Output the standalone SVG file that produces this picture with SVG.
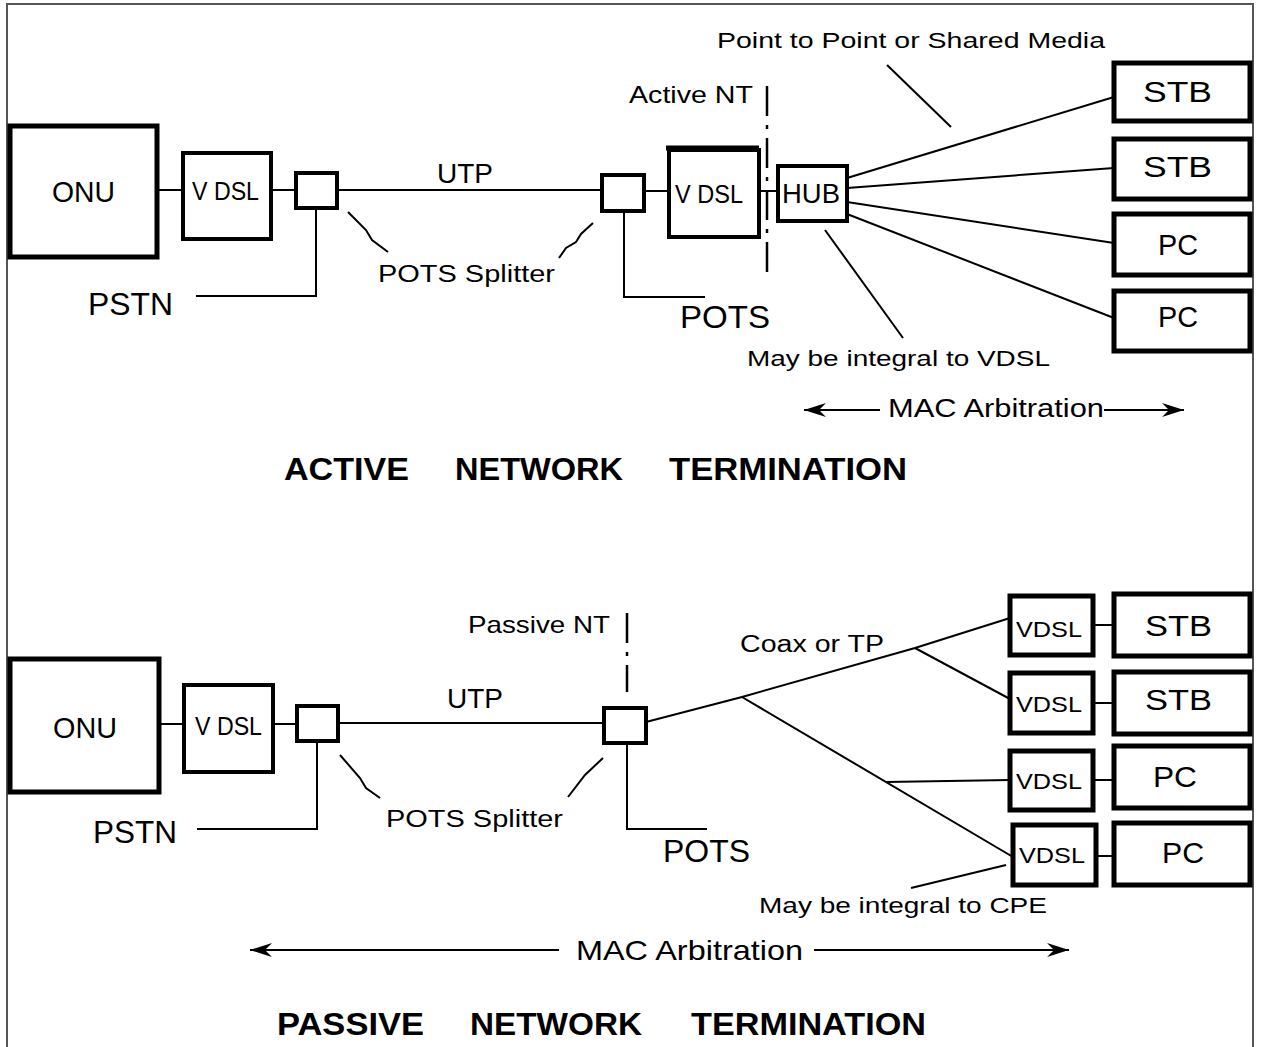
<svg xmlns="http://www.w3.org/2000/svg" width="1261" height="1047" viewBox="0 0 1261 1047">
<style>
.box{fill:#fff;stroke:#000;stroke-width:4}
.bbox{fill:#fff;stroke:#000;stroke-width:5}
.ln{fill:none;stroke:#000;stroke-width:2}
.dash{fill:none;stroke:#000;stroke-width:2.5;stroke-dasharray:30 9 4 9}
.t{font-family:"Liberation Sans",Arial,sans-serif;fill:#000}
.ttl{font-family:"Liberation Sans",Arial,sans-serif;font-weight:bold;font-size:32px;fill:#000}
</style>
<defs>
<marker id="ah" viewBox="0 0 22 14" refX="22" refY="7" markerWidth="22" markerHeight="14" markerUnits="userSpaceOnUse" orient="auto">
<path d="M0,0 L22,7 L0,14 L7,7 Z" fill="#000"/>
</marker>
</defs>
<rect width="1261" height="1047" fill="#fff"/>
<path d="M7,1047 V4 H1253 V1047" fill="none" stroke="#555" stroke-width="2"/>

<g id="connectors">
<!-- top -->
<line class="ln" x1="158" y1="190" x2="183" y2="190"/>
<line class="ln" x1="271" y1="190" x2="296" y2="190"/>
<line class="ln" x1="337" y1="190" x2="602" y2="190"/>
<line class="ln" x1="644" y1="191" x2="669" y2="191"/>
<line class="ln" x1="759" y1="191" x2="778" y2="191"/>
<polyline class="ln" points="316,208 316,296 196,296"/>
<polyline class="ln" points="624,211 624,297 705,297"/>
<line class="ln" x1="847" y1="178" x2="1114" y2="97"/>
<line class="ln" x1="847" y1="188" x2="1114" y2="168"/>
<line class="ln" x1="847" y1="202" x2="1114" y2="243"/>
<line class="ln" x1="847" y1="214" x2="1114" y2="318"/>
<path class="ln" d="M348,212 L366,230 L372,240 L388,252"/>
<path class="ln" d="M593,223 L581,234 L576,242 L566,248 L559,258"/>
<line class="ln" x1="887" y1="65" x2="951" y2="127"/>
<line class="ln" x1="825" y1="230" x2="903" y2="338"/>
<line class="dash" x1="767" y1="86" x2="767" y2="277"/>
<line class="ln" x1="880" y1="410" x2="804" y2="410" marker-end="url(#ah)"/>
<line class="ln" x1="1104" y1="410" x2="1184" y2="410" marker-end="url(#ah)"/>
<!-- bottom -->
<line class="ln" x1="159" y1="724" x2="184" y2="724"/>
<line class="ln" x1="273" y1="724" x2="297" y2="724"/>
<line class="ln" x1="338" y1="723" x2="604" y2="723"/>
<polyline class="ln" points="317,741 317,829 197,829"/>
<polyline class="ln" points="627,743 627,829 707,829"/>
<polyline class="ln" points="646,722 742,697 915,648 1010,618"/>
<line class="ln" x1="915" y1="648" x2="1010" y2="699"/>
<line class="ln" x1="742" y1="697" x2="1013" y2="857"/>
<line class="ln" x1="886" y1="782" x2="1010" y2="780"/>
<line class="ln" x1="1093" y1="625" x2="1114" y2="625"/>
<line class="ln" x1="1093" y1="703" x2="1114" y2="703"/>
<line class="ln" x1="1093" y1="780" x2="1114" y2="780"/>
<line class="ln" x1="1096" y1="856" x2="1114" y2="856"/>
<path class="ln" d="M340,755 L360,778 L366,788 L380,798"/>
<path class="ln" d="M603,758 L585,775 L568,797"/>
<line class="ln" x1="911" y1="888" x2="1006" y2="865"/>
<line class="dash" x1="627" y1="613" x2="627" y2="692"/>
<line class="ln" x1="559" y1="950" x2="250" y2="950" marker-end="url(#ah)"/>
<line class="ln" x1="814" y1="950" x2="1069" y2="950" marker-end="url(#ah)"/>
</g>

<!-- top nodes -->
<g id="onu1"><rect class="bbox" x="10" y="126" width="147" height="131"/><text class="t" x="52" y="202" font-size="30" textLength="63" lengthAdjust="spacingAndGlyphs">ONU</text></g>
<g id="vdsl1"><rect class="box" x="183" y="153" width="88" height="86"/><text class="t" x="192" y="200" font-size="25" textLength="67" lengthAdjust="spacingAndGlyphs">V DSL</text></g>
<g id="splitter1"><rect class="box" x="296" y="173" width="41" height="35"/></g>
<g id="splitter2"><rect class="box" x="602" y="175" width="42" height="36"/></g>
<g id="vdsl2"><rect class="box" x="669" y="150" width="90" height="87"/><line x1="666" y1="148" x2="759" y2="148" stroke="#000" stroke-width="5"/><text class="t" x="675" y="203" font-size="25" textLength="68" lengthAdjust="spacingAndGlyphs">V DSL</text></g>
<g id="hub"><rect class="box" x="778" y="166" width="69" height="55"/><text class="t" x="782" y="203" font-size="27" textLength="58" lengthAdjust="spacingAndGlyphs">HUB</text></g>
<g id="stb1"><rect class="bbox" x="1114" y="63" width="136" height="58"/><text class="t" x="1143" y="102" font-size="30" textLength="69" lengthAdjust="spacingAndGlyphs">STB</text></g>
<g id="stb2"><rect class="bbox" x="1114" y="139" width="136" height="60"/><text class="t" x="1143" y="177" font-size="30" textLength="69" lengthAdjust="spacingAndGlyphs">STB</text></g>
<g id="pc1"><rect class="bbox" x="1114" y="214" width="136" height="61"/><text class="t" x="1158" y="255" font-size="30" textLength="40" lengthAdjust="spacingAndGlyphs">PC</text></g>
<g id="pc2"><rect class="bbox" x="1114" y="291" width="136" height="60"/><text class="t" x="1158" y="327" font-size="30" textLength="40" lengthAdjust="spacingAndGlyphs">PC</text></g>

<g id="labels-top">
<text class="t" x="717" y="48" font-size="22" textLength="388" lengthAdjust="spacingAndGlyphs">Point to Point or Shared Media</text>
<text class="t" x="629" y="103" font-size="24" textLength="124" lengthAdjust="spacingAndGlyphs">Active NT</text>
<text class="t" x="437" y="183" font-size="27" textLength="56" lengthAdjust="spacingAndGlyphs">UTP</text>
<text class="t" x="378" y="282" font-size="23" textLength="177" lengthAdjust="spacingAndGlyphs">POTS Splitter</text>
<text class="t" x="88" y="315" font-size="31" textLength="85" lengthAdjust="spacingAndGlyphs">PSTN</text>
<text class="t" x="680" y="328" font-size="31" textLength="90" lengthAdjust="spacingAndGlyphs">POTS</text>
<text class="t" x="747" y="366" font-size="22" textLength="303" lengthAdjust="spacingAndGlyphs">May be integral to VDSL</text>
<text class="t" x="888" y="417" font-size="26" textLength="216" lengthAdjust="spacingAndGlyphs">MAC Arbitration</text>
<text class="ttl" x="284" y="480" textLength="125" lengthAdjust="spacingAndGlyphs">ACTIVE</text>
<text class="ttl" x="455" y="480" textLength="168" lengthAdjust="spacingAndGlyphs">NETWORK</text>
<text class="ttl" x="669" y="480" textLength="238" lengthAdjust="spacingAndGlyphs">TERMINATION</text>
</g>

<!-- bottom nodes -->
<g id="onu2"><rect class="bbox" x="10" y="659" width="149" height="133"/><text class="t" x="53" y="738" font-size="30" textLength="64" lengthAdjust="spacingAndGlyphs">ONU</text></g>
<g id="vdsl3"><rect class="box" x="184" y="685" width="89" height="87"/><text class="t" x="195" y="735" font-size="25" textLength="67" lengthAdjust="spacingAndGlyphs">V DSL</text></g>
<g id="splitter3"><rect class="box" x="297" y="706" width="41" height="35"/></g>
<g id="splitter4"><rect class="box" x="604" y="708" width="42" height="35"/></g>
<g id="cvdsl1"><rect class="bbox" x="1010" y="596" width="83" height="59"/><text class="t" x="1016" y="637" font-size="22" textLength="66" lengthAdjust="spacingAndGlyphs">VDSL</text></g>
<g id="cvdsl2"><rect class="bbox" x="1010" y="673" width="83" height="60"/><text class="t" x="1016" y="712" font-size="22" textLength="66" lengthAdjust="spacingAndGlyphs">VDSL</text></g>
<g id="cvdsl3"><rect class="bbox" x="1010" y="751" width="83" height="59"/><text class="t" x="1016" y="789" font-size="22" textLength="66" lengthAdjust="spacingAndGlyphs">VDSL</text></g>
<g id="cvdsl4"><rect class="bbox" x="1013" y="825" width="83" height="60"/><text class="t" x="1019" y="863" font-size="22" textLength="66" lengthAdjust="spacingAndGlyphs">VDSL</text></g>
<g id="stb3"><rect class="bbox" x="1114" y="594" width="136" height="62"/><text class="t" x="1145" y="636" font-size="29" textLength="67" lengthAdjust="spacingAndGlyphs">STB</text></g>
<g id="stb4"><rect class="bbox" x="1114" y="672" width="136" height="62"/><text class="t" x="1145" y="710" font-size="29" textLength="67" lengthAdjust="spacingAndGlyphs">STB</text></g>
<g id="pc3"><rect class="bbox" x="1114" y="746" width="136" height="62"/><text class="t" x="1153" y="787" font-size="29" textLength="44" lengthAdjust="spacingAndGlyphs">PC</text></g>
<g id="pc4"><rect class="bbox" x="1114" y="823" width="136" height="62"/><text class="t" x="1162" y="863" font-size="29" textLength="42" lengthAdjust="spacingAndGlyphs">PC</text></g>

<g id="labels-bottom">
<text class="t" x="468" y="633" font-size="24" textLength="142" lengthAdjust="spacingAndGlyphs">Passive NT</text>
<text class="t" x="447" y="708" font-size="27" textLength="56" lengthAdjust="spacingAndGlyphs">UTP</text>
<text class="t" x="740" y="652" font-size="23" textLength="144" lengthAdjust="spacingAndGlyphs">Coax or TP</text>
<text class="t" x="386" y="827" font-size="23" textLength="177" lengthAdjust="spacingAndGlyphs">POTS Splitter</text>
<text class="t" x="93" y="843" font-size="31" textLength="84" lengthAdjust="spacingAndGlyphs">PSTN</text>
<text class="t" x="663" y="862" font-size="31" textLength="87" lengthAdjust="spacingAndGlyphs">POTS</text>
<text class="t" x="759" y="913" font-size="22" textLength="288" lengthAdjust="spacingAndGlyphs">May be integral to CPE</text>
<text class="t" x="576" y="960" font-size="28" textLength="227" lengthAdjust="spacingAndGlyphs">MAC Arbitration</text>
<text class="ttl" x="277" y="1035" textLength="147" lengthAdjust="spacingAndGlyphs">PASSIVE</text>
<text class="ttl" x="470" y="1035" textLength="172" lengthAdjust="spacingAndGlyphs">NETWORK</text>
<text class="ttl" x="691" y="1035" textLength="235" lengthAdjust="spacingAndGlyphs">TERMINATION</text>
</g>
</svg>
